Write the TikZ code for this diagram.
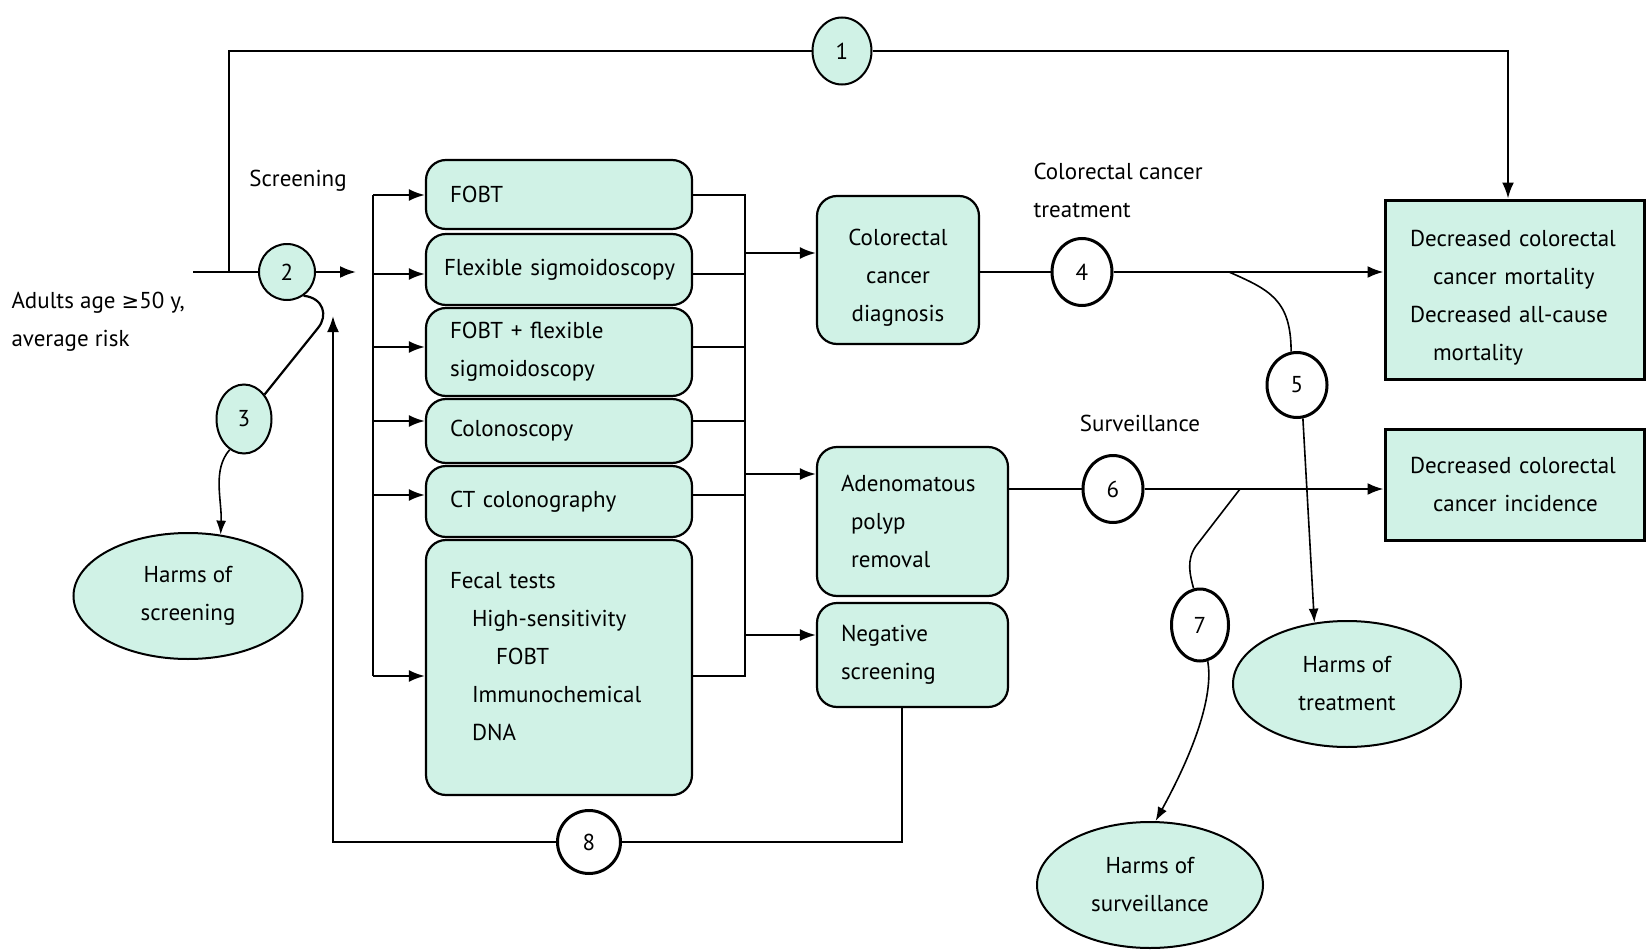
\documentclass[tikz,border=0pt]{standalone}
\usepackage{fontspec}
\setmainfont{PT Sans}
\newfontfamily\symfont{DejaVu Sans}
\usetikzlibrary{shapes.geometric,arrows.meta}
\definecolor{mint}{RGB}{208,242,230}
\begin{document}
\begin{tikzpicture}[x=1pt,y=-1pt,
  every node/.style={font=\fontsize{23}{38}\selectfont},
  conn/.style={line width=2.2pt},
  arr/.style={conn,-{Latex[length=16pt,width=12pt]}},
  thinline/.style={line width=1.6pt},
  tarr/.style={thinline,-{Latex[length=14pt,width=10pt]}},
  rbox/.style={draw,line width=2.2pt,fill=mint,rounded corners=20pt,align=left,inner xsep=24pt,inner ysep=0pt},
  sbox/.style={draw,line width=3pt,fill=mint,align=left,inner xsep=25pt,inner ysep=0pt},
  mcirc/.style={ellipse,draw,line width=2pt,fill=mint,inner sep=0pt},
  wcirc/.style={ellipse,draw,line width=3pt,fill=white,inner sep=0pt},
  harm/.style={ellipse,draw,line width=2pt,fill=mint,align=center,inner sep=0pt}]
\useasboundingbox (0,0) rectangle (1650,950);

% screening test boxes
\node[rbox,text width=218pt,minimum height=69pt] (fobt) at (559,194.5) {FOBT};
\node[rbox,inner xsep=18pt,text width=230pt,minimum height=71pt] (flex) at (559,269.5) {\mbox{Flexible sigmoidoscopy}};
\node[rbox,text width=218pt,minimum height=88pt] (ff) at (559,352) {FOBT + flexible\\sigmoidoscopy};
\node[rbox,text width=218pt,minimum height=64pt] (colo) at (559,431) {Colonoscopy};
\node[rbox,text width=218pt,minimum height=71pt] (ct) at (559,501.5) {CT colonography};
\node[rbox,text width=218pt,minimum height=255pt] (fecal) at (559,667.5) {Fecal tests\\\hspace*{22pt}High-sensitivity\\\hspace*{46pt}FOBT\\\hspace*{22pt}Immunochemical\\\hspace*{22pt}DNA\\[-16pt]\mbox{}};

% intermediate boxes
\node[rbox,align=center,inner xsep=10pt,text width=142pt,minimum height=148pt] (diag) at (898,270) {\mbox{}\\[-6pt]Colorectal\\cancer\\diagnosis};
\node[rbox,text width=143pt,minimum height=149pt] (adeno) at (912.5,521.5) {Adenomatous\\\hspace*{10pt}polyp\\\hspace*{10pt}removal};
\node[rbox,text width=143pt,minimum height=104pt] (neg) at (912.5,655) {Negative\\screening};

% outcome boxes
\node[sbox,text width=209pt,minimum height=179pt] (mort) at (1514.5,289.5) {\mbox{}\\[-6pt]Decreased colorectal\\\hspace*{23pt}cancer mortality\\Decreased all-cause\\\hspace*{23pt}mortality};
\node[sbox,text width=209pt,minimum height=111pt] (inc) at (1514.5,484.5) {Decreased colorectal\\\hspace*{23pt}cancer incidence};

% harms
\node[harm,minimum width=229pt,minimum height=126pt] (hs) at (188,596) {Harms of\\screening};
\node[harm,minimum width=228pt,minimum height=126pt] (ht) at (1347,684) {Harms of\\treatment};
\node[harm,minimum width=226pt,minimum height=126pt] (hsv) at (1150,885) {Harms of\\surveillance};

% numbered circles
\node[mcirc,minimum width=59pt,minimum height=67pt] (c1) at (842,51) {1};
\node[mcirc,minimum width=56pt,minimum height=56pt] (c2) at (287,272) {2};
\node[mcirc,minimum width=55pt,minimum height=69pt] (c3) at (244,419) {3};
\node[wcirc,minimum width=60pt,minimum height=67pt] (c4) at (1082,272) {4};
\node[wcirc,minimum width=60pt,minimum height=65pt] (c5) at (1297,385) {5};
\node[wcirc,minimum width=60pt,minimum height=67pt] (c6) at (1113,489) {6};
\node[wcirc,minimum width=57pt,minimum height=72pt] (c7) at (1200,625) {7};
\node[wcirc,minimum width=63pt,minimum height=63pt] (c8) at (589,842) {8};

% labels
\node (lscr) at (298,181) {Screening};
\node[anchor=west,align=left] (ladult) at (8,322) {Adults age {\symfont\fontsize{21}{38}\selectfont ≥}50 y,\\average risk};
\node[anchor=west,align=left] (ltreat) at (1030,190) {Colorectal cancer\\treatment};
\node (lsurv) at (1140,423) {Surveillance};

% coordinates
\coordinate (start) at (193,272);
\coordinate (j1) at (229,272);
\coordinate (tl) at (229,51);
\coordinate (tr) at (1508,51);
\coordinate (a2) at (356,272);
\coordinate (lb1) at (373,195);
\coordinate (lb2) at (373,274);
\coordinate (lb3) at (373,347);
\coordinate (lb4) at (373,421);
\coordinate (lb5) at (373,495);
\coordinate (lb6) at (373,676);
\coordinate (rb1) at (745,195);
\coordinate (rb2) at (745,274);
\coordinate (rb3) at (745,347);
\coordinate (rb4) at (745,421);
\coordinate (rb5) at (745,495);
\coordinate (rb6) at (745,676);
\coordinate (o1) at (745,253);
\coordinate (o2) at (745,474);
\coordinate (o3) at (745,635);
\coordinate (n1) at (902,842);
\coordinate (fb) at (333,842);
\coordinate (fbt) at (333,316);
\coordinate (b5) at (1229,272);
\coordinate (b7) at (1240,489);

% main line and path 1
\draw[conn] (start) -- (c2);
\draw[conn] (j1) -- (tl) -- (c1);
\draw[arr] (c1) -- (tr) -- (tr |- mort.north);
\draw[arr] (c2) -- (a2);

% left bracket
\draw[conn] (lb1) -- (lb6);
\draw[arr] (lb1) -- (lb1 -| fobt.west);
\draw[arr] (lb2) -- (lb2 -| flex.west);
\draw[arr] (lb3) -- (lb3 -| ff.west);
\draw[arr] (lb4) -- (lb4 -| colo.west);
\draw[arr] (lb5) -- (lb5 -| ct.west);
\draw[arr] (lb6) -- (lb6 -| fecal.west);

% right bracket
\draw[conn] (rb1 -| fobt.east) -- (rb1) -- (rb6) -- (rb6 -| fecal.east);
\draw[conn] (rb2 -| flex.east) -- (rb2);
\draw[conn] (rb3 -| ff.east) -- (rb3);
\draw[conn] (rb4 -| colo.east) -- (rb4);
\draw[conn] (rb5 -| ct.east) -- (rb5);
\draw[arr] (o1) -- (o1 -| diag.west);
\draw[arr] (o2) -- (o2 -| adeno.west);
\draw[arr] (o3) -- (o3 -| neg.west);

% treatment & surveillance
\draw[conn] (diag.east |- c4) -- (c4);
\draw[arr] (c4) -- (c4 -| mort.west);
\draw[conn] (adeno.east |- c6) -- (c6);
\draw[arr] (c6) -- (c6 -| inc.west);

% feedback loop 8
\draw[conn] (neg.south -| n1) -- (n1) -- (c8);
\draw[arr] (c8) -- (fb) -- (fbt);

% harms paths
\draw[conn] (c2.-55) .. controls (324,298) and (328,316) .. (318,328) -- (c3.50);
\draw[tarr] (c3.-115) .. controls (212,470) and (222,500) .. (hs.62);
\draw[thinline] (b5) .. controls (1270,290) and (1291,300) .. (c5.100);
\draw[tarr] (c5.-80) -- (ht.118);
\draw[thinline] (b7) -- (1196,546) .. controls (1186,560) and (1190,575) .. (c7.100);
\draw[tarr] (c7.-78) .. controls (1213,690) and (1200,740) .. (hsv.85);
\end{tikzpicture}
\end{document}
